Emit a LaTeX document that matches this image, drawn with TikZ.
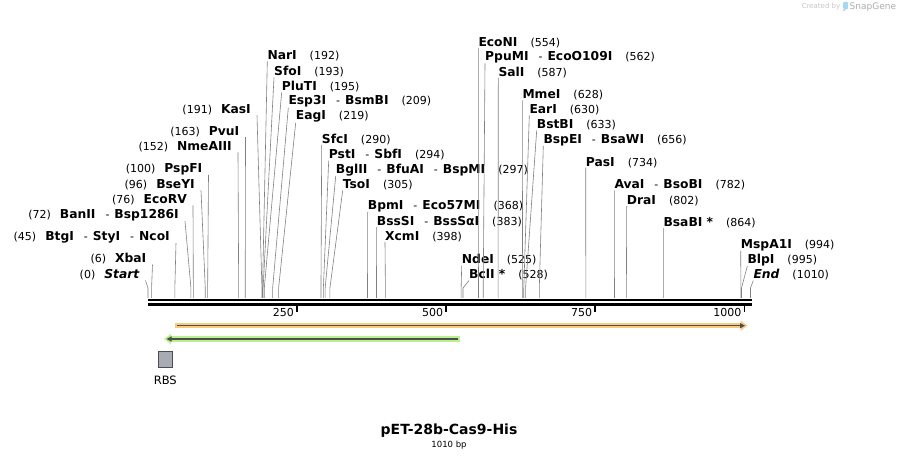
\documentclass[tikz,border=0pt]{standalone}
\usepackage{fontspec}
\setmainfont{DejaVu Sans}
\usetikzlibrary{arrows.meta,positioning}

\definecolor{leadgray}{HTML}{808080}
\definecolor{orfband}{HTML}{F9CB82}
\definecolor{rbsband}{HTML}{B9F08E}
\definecolor{featline}{HTML}{4D4D4D}
\definecolor{rbsfill}{HTML}{A7ACB4}
\definecolor{logoblue}{HTML}{A6D8F2}

\newcommand\enz[1]{{\fontsize{12.3}{14}\selectfont\bfseries #1}}
\newcommand\enzsep{\hspace{10pt}-\hspace{5pt}}

\tikzset{
	site label/.style={font=\fontsize{11}{13}\selectfont, inner sep=0pt},
	leader/.style={draw=leadgray, line width=0.6pt},
	bp tick/.style={line width=1.8pt},
	feat band/.style={line width=5.5pt, -{Triangle[length=7pt,width=10pt]}},
	feat core/.style={featline, line width=1.5pt, -{Triangle[length=5pt,width=5pt]}}
}

\begin{document}
\begin{tikzpicture}[x=1pt,y=-1pt]
		\useasboundingbox (0,0) rectangle (900,462);
		
		% watermark
		\node[font=\fontsize{7}{8}\selectfont, text=gray!45, inner sep=0pt] (created) at (821,7) {Created by};
		\fill[logoblue, rounded corners=1pt] (843,2) rectangle (848,9) -- (843,9) -- (843,12) -- (846,9);
		\node[font=\fontsize{9}{10}\selectfont, text=gray!65, inner sep=0pt, anchor=west] (snapgene) at (849.5,7) {SnapGene};
		
		% sequence bar
		\draw[line width=2.8pt] (148,300) -- (752,300);
		\draw[line width=2.8pt] (148,304.5) -- (752,304.5);
		\foreach \k in {250,500,750,1000} {
			\coordinate (tick\k) at ({148+0.5965*\k},304);
			\draw[bp tick] (tick\k) -- ++(0,8.5);
			\node[site label, anchor=east] (ticklbl\k) at ([xshift=-3pt,yshift=-8.5pt]tick\k) {\k};
		}
		
		% sites labelled on the left
		\foreach \n/\p/\lx/\ly/\t in {
			kasI/191/251/110/{(191)\hspace{9pt}\enz{KasI}},
			pvuI/163/239.5/131.7/{(163)\hspace{9pt}\enz{PvuI}},
			nmeAIII/152/232/147/{(152)\hspace{9pt}\enz{NmeAIII}},
			pspFI/100/202.5/169/{(100)\hspace{9pt}\enz{PspFI}},
			bseYI/96/195/185/{(96)\hspace{9pt}\enz{BseYI}},
			ecoRV/76/187/200/{(76)\hspace{9pt}\enz{EcoRV}},
			banII/72/179/215/{(72)\hspace{9pt}\enz{BanII}\enzsep\enz{Bsp1286I}},
			btgI/45/170/237/{(45)\hspace{9pt}\enz{BtgI}\enzsep\enz{StyI}\enzsep\enz{NcoI}},
			xbaI/6/146.5/259/{(6)\hspace{9pt}\enz{XbaI}},
			start/0/139.5/275/{(0)\hspace{9pt}\enz{\itshape Start}}} {
			\coordinate (\n site) at ({148+0.5965*\p},298);
			\node[site label, anchor=east] (\n) at (\lx,\ly) {\t};
			\draw[leader] ([xshift=6pt]\n.south east) -- ([yshift=10pt]\n site) -- (\n site);
		}
		
		% sites labelled on the right
		\foreach \n/\p/\lx/\ly/\t in {
			narI/192/267.3/56/{\enz{NarI}\hspace{13pt}(192)},
			sfoI/193/274/71.7/{\enz{SfoI}\hspace{13pt}(193)},
			pluTI/195/281.7/86.7/{\enz{PluTI}\hspace{13pt}(195)},
			esp3I/209/288.3/101.7/{\enz{Esp3I}\enzsep\enz{BsmBI}\hspace{13pt}(209)},
			eagI/219/295.7/116.7/{\enz{EagI}\hspace{13pt}(219)},
			sfcI/290/321.7/139.3/{\enz{SfcI}\hspace{13pt}(290)},
			pstI/294/328.7/155/{\enz{PstI}\enzsep\enz{SbfI}\hspace{13pt}(294)},
			bglII/297/335.7/170/{\enz{BglII}\enzsep\enz{BfuAI}\enzsep\enz{BspMI}\hspace{13pt}(297)},
			tsoI/305/342.7/185/{\enz{TsoI}\hspace{13pt}(305)},
			bpmI/368/367.7/206/{\enz{BpmI}\enzsep\enz{Eco57MI}\hspace{13pt}(368)},
			bssSI/383/376.7/221.7/{\enz{BssSI}\enzsep\enz{BssSαI}\hspace{13pt}(383)},
			xcmI/398/385/236.7/{\enz{XcmI}\hspace{13pt}(398)},
			ndeI/525/461.7/260/{\enz{NdeI}\hspace{13pt}(525)},
			bclI/528/469/275/{\enz{BclI *}\hspace{13pt}(528)},
			ecoNI/554/478.3/42.7/{\enz{EcoNI}\hspace{13pt}(554)},
			ppuMI/562/485/57.3/{\enz{PpuMI}\enzsep\enz{EcoO109I}\hspace{13pt}(562)},
			salI/587/498.3/72.3/{\enz{SalI}\hspace{13pt}(587)},
			mmeI/628/522.3/95/{\enz{MmeI}\hspace{13pt}(628)},
			earI/630/529.3/110/{\enz{EarI}\hspace{13pt}(630)},
			bstBI/633/536.7/125/{\enz{BstBI}\hspace{13pt}(633)},
			bspEI/656/543.3/140/{\enz{BspEI}\enzsep\enz{BsaWI}\hspace{13pt}(656)},
			pasI/734/585.7/162.3/{\enz{PasI}\hspace{13pt}(734)},
			avaI/782/614.3/185/{\enz{AvaI}\enzsep\enz{BsoBI}\hspace{13pt}(782)},
			draI/802/626.7/200.7/{\enz{DraI}\hspace{13pt}(802)},
			bsaBI/864/663.3/222.7/{\enz{BsaBI *}\hspace{13pt}(864)},
			mspA1I/994/740.7/245/{\enz{MspA1I}\hspace{13pt}(994)},
			blpI/995/747.3/260/{\enz{BlpI}\hspace{13pt}(995)},
			end/1010/753.3/275/{\enz{\itshape End}\hspace{13pt}(1010)}} {
			\coordinate (\n site) at ({148+0.5965*\p},298);
			\node[site label, anchor=west] (\n) at (\lx,\ly) {\t};
			\draw[leader] (\n.south west) -- ([yshift=10pt]\n site) -- (\n site);
		}
		
		% features
		\draw[feat band, orfband] (175,325.7) -- (747.5,325.7);
		\draw[feat core] (177,325.7) -- (745,325.7);
		\draw[feat band, rbsband] (460,339) -- (164,339);
		\draw[feat core] (458,339) -- (166.5,339);
		
		\node[draw=featline, fill=rbsfill, line width=0.8pt, minimum width=14.7pt, minimum height=16pt, inner sep=0pt] (rbs) at (165.3,359.3) {};
		\node[below=8pt of rbs, font=\fontsize{11.5}{13}\selectfont, inner sep=0pt] (rbs name) {RBS};
		
		% title
		\node[font=\fontsize{14}{16}\selectfont\bfseries, inner sep=0pt] (title) at (449,431) {pET-28b-Cas9-His};
		\node[below=3pt of title, font=\fontsize{8.5}{10}\selectfont, inner sep=0pt] (length) {1010 bp};
		
	\end{tikzpicture}
\end{document}
